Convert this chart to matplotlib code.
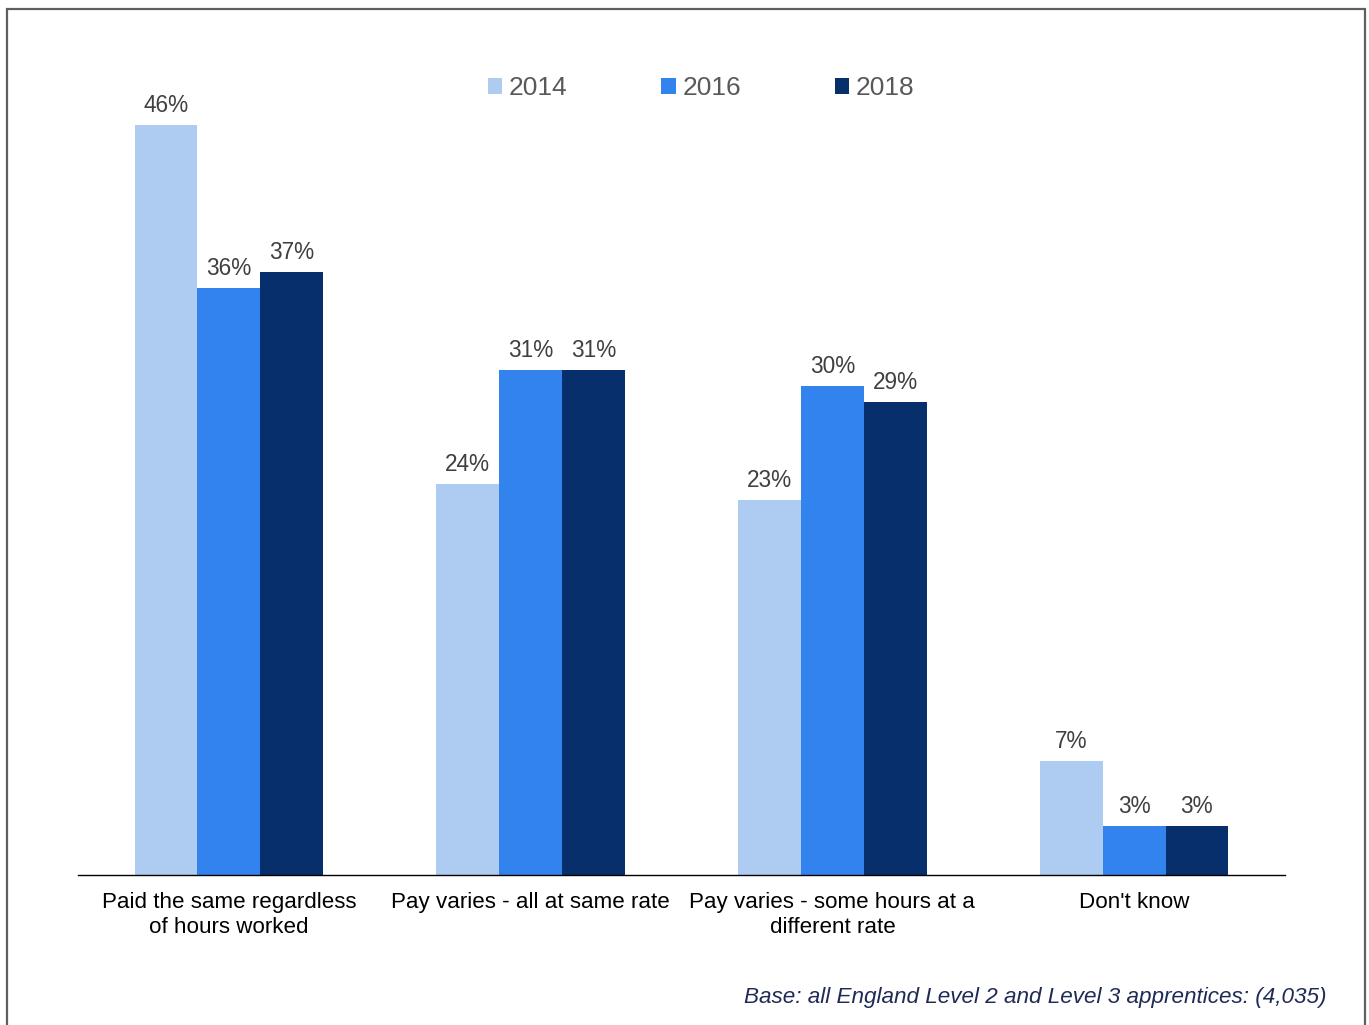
import matplotlib
matplotlib.use("Agg")
import matplotlib.pyplot as plt
from matplotlib.patches import Rectangle, Patch
import numpy as np

plt.rcParams['font.family'] = ['Liberation Sans', 'DejaVu Sans']

categories = ["Paid the same regardless\nof hours worked",
              "Pay varies - all at same rate",
              "Pay varies - some hours at a\ndifferent rate",
              "Don't know"]
years = ["2014", "2016", "2018"]
values_2014 = [46, 24, 23, 7]
values_2016 = [36, 31, 30, 3]
values_2018 = [37, 31, 29, 3]
series = [values_2014, values_2016, values_2018]
colors = ["#AECBF1", "#3283EE", "#072F6B"]

W, H = 1369, 1025
fig = plt.figure(figsize=(W / 100, H / 100), dpi=100)
ax = fig.add_axes([78 / W, (H - 875) / H, 1207 / W, 815 / H])

x = np.arange(len(categories))
bw = 0.208
for i, (vals, col) in enumerate(zip(series, colors)):
    pos = x + (i - 1) * bw
    ax.bar(pos, vals, width=bw, color=col, label=years[i])
    for p, v in zip(pos, vals):
        ax.text(p, v + 0.5, f"{v}%", ha="center", va="bottom",
                fontsize=16.3, color="#404040")

ax.set_xlim(-0.5, 3.5)
ax.set_ylim(0, 50)
ax.set_yticks([])
ax.set_xticks(x)
ax.set_xticklabels(categories, fontsize=16.1, color="#000000", linespacing=1.3)
ax.tick_params(axis="x", length=0, pad=12)
for s in ["left", "right", "top"]:
    ax.spines[s].set_visible(False)
ax.spines["bottom"].set_color("#000000")
ax.spines["bottom"].set_linewidth(1.0)

handles = [Patch(facecolor=c, edgecolor="none") for c in colors]
fig.legend(handles, years, loc="center", bbox_to_anchor=(701 / W, 1 - 88 / H),
           ncol=3, frameon=False, fontsize=19, handlelength=0.55, handleheight=0.55,
           handletextpad=0.25, columnspacing=3.55, labelcolor="#595959")

fig.text(1327 / W, 1 - 998 / H,
         "Base: all England Level 2 and Level 3 apprentices: (4,035)",
         ha="right", va="center", fontsize=16.2, style="italic", color="#1F2A55")

fig.patches.append(Rectangle((7 / W, -0.05), (1365 - 7) / W, (1 - 9 / H) + 0.05,
                             transform=fig.transFigure, fill=False,
                             edgecolor="#5F5F5F", linewidth=1.6))

fig.savefig("out.png", dpi=100)
